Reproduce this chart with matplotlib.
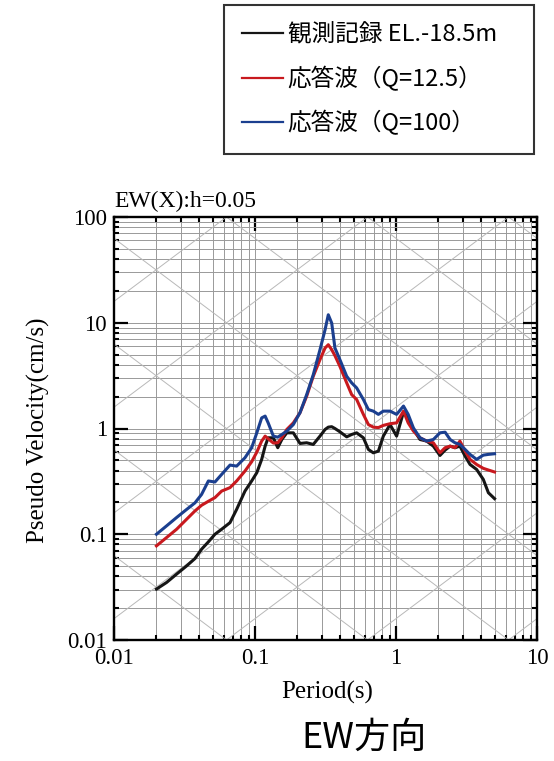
import numpy as np
import matplotlib
matplotlib.use("Agg")
import matplotlib.pyplot as plt
from matplotlib.ticker import FixedLocator, LogLocator, NullFormatter, FuncFormatter

# periods (s) shared by all three spectra
period = [0.02, 0.0236, 0.0278, 0.0328, 0.0375, 0.0418, 0.0467, 0.052, 0.058, 0.0665,
          0.0741, 0.0849, 0.0947, 0.103, 0.1115, 0.118, 0.124, 0.135, 0.145, 0.155,
          0.168, 0.187, 0.2085, 0.2325, 0.259, 0.289, 0.314, 0.331, 0.35, 0.369,
          0.40, 0.447, 0.485, 0.526, 0.587, 0.637, 0.69, 0.75, 0.813, 0.907,
          1.01, 1.13, 1.22, 1.33, 1.48, 1.65, 1.84, 2.05, 2.23, 2.42,
          2.62, 2.84, 3.09, 3.35, 3.73, 4.16, 4.52, 5.0]

# pseudo velocity (cm/s)
sv_obs = [0.0303, 0.035, 0.042, 0.0503, 0.0589, 0.0722, 0.0847, 0.100, 0.1115, 0.1288,
          0.172, 0.256, 0.319, 0.382, 0.510, 0.681, 0.817, 0.817, 0.658, 0.787,
          0.910, 0.910, 0.722, 0.733, 0.707, 0.847, 0.979, 1.03, 1.04, 1.0,
          0.931, 0.834, 0.878, 0.910, 0.817, 0.634, 0.589, 0.611, 0.847, 1.09,
          0.847, 1.43, 1.26, 0.979, 0.787, 0.760, 0.681, 0.556, 0.625, 0.681,
          0.658, 0.681, 0.548, 0.457, 0.410, 0.330, 0.247, 0.217]

sv_q125 = [0.0776, 0.0931, 0.1115, 0.139, 0.166, 0.188, 0.205, 0.222, 0.256, 0.276,
           0.319, 0.396, 0.485, 0.598, 0.760, 0.847, 0.800, 0.728, 0.733, 0.817,
           0.979, 1.13, 1.41, 2.02, 3.12, 4.48, 5.77, 6.20, 5.56, 4.88,
           3.87, 2.70, 2.09, 1.88, 1.36, 1.09, 1.03, 1.02, 1.07, 1.11,
           1.13, 1.46, 1.13, 0.944, 0.817, 0.760, 0.733, 0.589, 0.658, 0.681,
           0.658, 0.760, 0.611, 0.510, 0.457, 0.420, 0.405, 0.388]

sv_q100 = [0.100, 0.120, 0.144, 0.172, 0.198, 0.238, 0.319, 0.312, 0.368, 0.451,
           0.441, 0.529, 0.658, 0.910, 1.26, 1.31, 1.13, 0.847, 0.828, 0.878,
           0.944, 1.09, 1.41, 2.09, 3.23, 5.56, 8.59, 11.9, 9.93, 5.77,
           4.48, 3.12, 2.70, 2.42, 1.88, 1.51, 1.46, 1.36, 1.46, 1.46,
           1.36, 1.63, 1.36, 1.01, 0.817, 0.760, 0.787, 0.910, 0.923, 0.787,
           0.733, 0.707, 0.634, 0.569, 0.510, 0.560, 0.569, 0.577]

labels = ["観測記録 EL.-18.5m", "応答波（Q=12.5）", "応答波（Q=100）"]
colors = ["#151515", "#c8191e", "#1b3f8f"]

serif = "Liberation Serif"
jp = ["Noto Sans CJK JP", "DejaVu Sans"]

fig = plt.figure(figsize=(5.54, 7.61), dpi=100)
ax = fig.add_axes([114 / 554, 1 - 640 / 761, 423 / 554, 423 / 761])

ax.set_xscale("log")
ax.set_yscale("log")
ax.set_xlim(0.01, 10)
ax.set_ylim(0.01, 100)

# tripartite diagonals: constant displacement (cm) and acceleration (cm/s2)
tt = np.array([0.001, 100.0])
for k in range(-7, 5):
    ax.plot(tt, 10.0 ** k * 2 * np.pi / tt, color="#b8b8b8", lw=0.7, zorder=1)
for k in range(-3, 7):
    ax.plot(tt, 10.0 ** k * tt / (2 * np.pi), color="#b8b8b8", lw=0.7, zorder=1)

ax.xaxis.set_major_locator(FixedLocator([0.01, 0.1, 1, 10]))
ax.yaxis.set_major_locator(FixedLocator([0.01, 0.1, 1, 10, 100]))
ax.xaxis.set_minor_locator(LogLocator(base=10, subs=np.arange(2, 10), numticks=20))
ax.yaxis.set_minor_locator(LogLocator(base=10, subs=np.arange(2, 10), numticks=20))
fmt = FuncFormatter(lambda v, p: "%g" % v)
ax.xaxis.set_major_formatter(fmt)
ax.yaxis.set_major_formatter(fmt)
ax.xaxis.set_minor_formatter(NullFormatter())
ax.yaxis.set_minor_formatter(NullFormatter())

ax.grid(True, which="both", color="#999999", lw=0.7, zorder=1)
ax.set_axisbelow(True)

ax.tick_params(which="both", direction="in", top=True, right=True)
ax.tick_params(which="major", length=10, width=1.6, labelsize=16.5)
ax.tick_params(which="minor", length=3.5, width=1.5)
ax.tick_params(axis="x", which="major", pad=6)
ax.tick_params(axis="y", which="major", pad=5)
for lab in ax.get_xticklabels() + ax.get_yticklabels():
    lab.set_fontfamily(serif)
for s in ax.spines.values():
    s.set_linewidth(1.7)

for sv, c, lab in zip([sv_obs, sv_q125, sv_q100], colors, labels):
    ax.plot(period, sv, color=c, lw=2.2, label=lab, zorder=3)

fig.text(114 / 554, 1 - 207 / 761, "EW(X):h=0.05", family=serif, fontsize=17,
         ha="left", va="baseline")
fig.text(38 / 554, 1 - 430 / 761, "Pseudo Velocity(cm/s)", family=serif, fontsize=18,
         rotation=90, ha="center", va="center")
fig.text(327 / 554, 1 - 692 / 761, "Period(s)", family=serif, fontsize=18,
         ha="center", va="center")
fig.text(364 / 554, 1 - 738 / 761, "EW方向", family=jp, fontsize=26,
         ha="center", va="center")

handles, labs = ax.get_legend_handles_labels()
leg = fig.legend(handles, labs, loc="upper left",
                 bbox_to_anchor=(224 / 554, 1 - 5 / 761, 310 / 554, 0), mode="expand",
                 prop={"family": jp, "size": 17}, frameon=True, fancybox=False,
                 edgecolor="black", handlelength=1.7, handletextpad=0.22,
                 borderpad=0.78, labelspacing=0.82, borderaxespad=0)
leg.get_frame().set_linewidth(1.5)
for h in leg.get_lines():
    h.set_linewidth(1.6)

fig.savefig("out.png", dpi=100)
